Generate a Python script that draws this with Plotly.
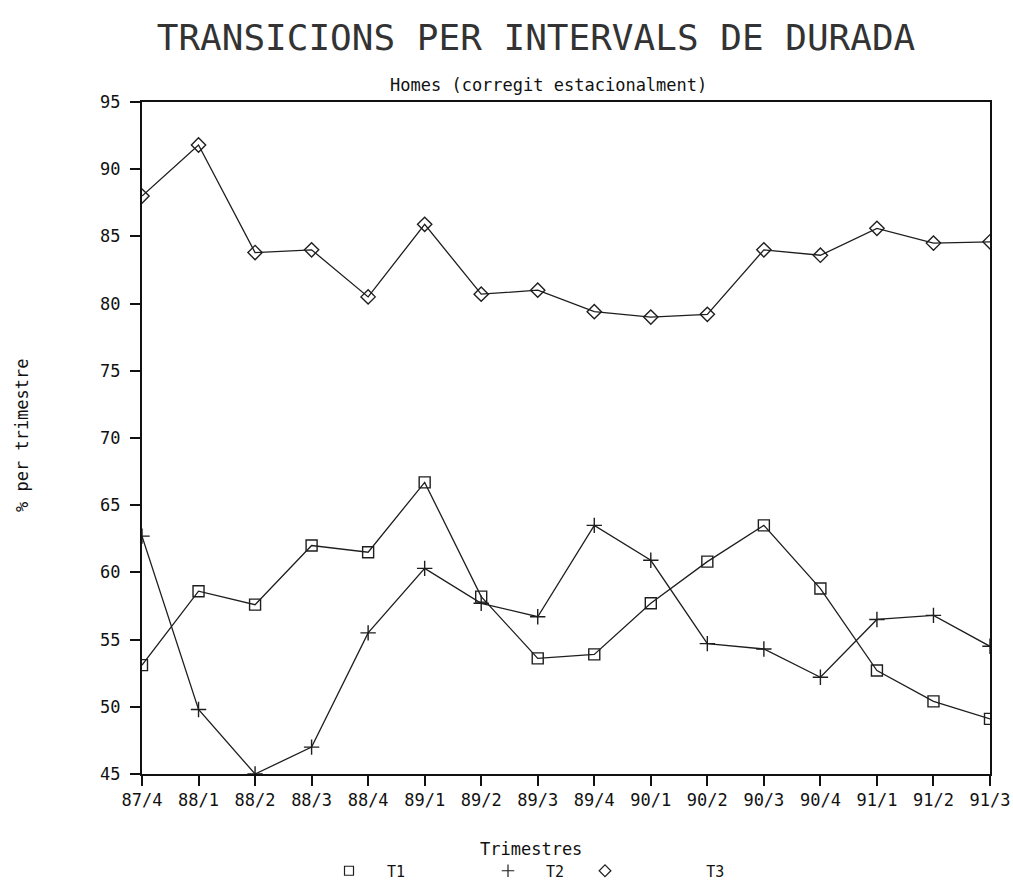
import plotly.graph_objects as go

quarters = ["87/4", "88/1", "88/2", "88/3", "88/4", "89/1", "89/2", "89/3",
            "89/4", "90/1", "90/2", "90/3", "90/4", "91/1", "91/2", "91/3"]
t1 = [53.1, 58.6, 57.6, 62.0, 61.5, 66.7, 58.2, 53.6,
      53.9, 57.7, 60.8, 63.5, 58.8, 52.7, 50.4, 49.1]
t2 = [62.7, 49.8, 45.0, 47.0, 55.5, 60.3, 57.7, 56.7,
      63.5, 60.9, 54.7, 54.3, 52.2, 56.5, 56.8, 54.5]
t3 = [88.0, 91.8, 83.8, 84.0, 80.5, 85.9, 80.7, 81.0,
      79.4, 79.0, 79.2, 84.0, 83.6, 85.6, 84.5, 84.6]

FONT = "DejaVu Sans Mono"
LINE = "#1e1e1e"

W, H = 1013, 885
PL, PR, PT, PB = 142, 990, 102, 774  # plot area in screen px


def px(sx):
    return (sx - PL) / (PR - PL)


def py(sy):
    return (PB - sy) / (PB - PT)


fig = go.Figure()
series = [("T1", t1, "square-open", 11, "legend", "\u00a0\u00a0T1"),
          ("T2", t2, "cross-thin-open", 11, "legend2", "\u00a0\u00a0T2"),
          ("T3", t3, "diamond-open", 11, "legend3", "\u00a0" * 9 + "T3")]
for name, vals, sym, sz, leg, label in series:
    fig.add_trace(go.Scatter(
        x=quarters, y=vals, mode="lines+markers", name=name, showlegend=False,
        line=dict(color=LINE, width=1.3),
        marker=dict(symbol=sym, size=sz, color=LINE, line=dict(color=LINE, width=1.4)),
    ))
    fig.add_trace(go.Scatter(
        x=[None], y=[None], mode="markers", name=label, showlegend=True, legend=leg,
        marker=dict(symbol=sym, size=9, color=LINE, line=dict(color=LINE, width=1.2)),
    ))

legend_common = dict(orientation="h", xanchor="left", yanchor="middle",
                     y=py(871), font=dict(family=FONT, size=15, color="#111"),
                     bgcolor="rgba(0,0,0,0)", borderwidth=0)

fig.update_layout(
    width=W, height=H,
    margin=dict(l=PL, r=W - PR, t=PT, b=H - PB, autoexpand=False),
    paper_bgcolor="white", plot_bgcolor="white",
    font=dict(family=FONT, size=15, color="#111"),
    title=dict(text="TRANSICIONS PER INTERVALS DE DURADA",
               font=dict(family=FONT, size=36, color="#333"),
               x=536 / W, xanchor="center", y=1 - 37 / H, yanchor="middle"),
    legend=dict(x=px(349 - 20), **legend_common),
    legend2=dict(x=px(508 - 20), **legend_common),
    legend3=dict(x=px(605 - 20), **legend_common),
    annotations=[
        dict(text="Homes (corregit estacionalment)", xref="paper", yref="paper",
             x=px(548), y=py(85), xanchor="center", yanchor="middle",
             showarrow=False, font=dict(family=FONT, size=17)),
        dict(text="% per trimestre", xref="paper", yref="paper",
             x=px(22), y=py(435), xanchor="center", yanchor="middle",
             textangle=-90, showarrow=False, font=dict(family=FONT, size=17)),
        dict(text="Trimestres", xref="paper", yref="paper",
             x=px(531), y=py(849), xanchor="center", yanchor="middle",
             showarrow=False, font=dict(family=FONT, size=17)),
    ],
)
fig.update_xaxes(type="category", range=[0, 15], showgrid=False, zeroline=False,
                 showline=True, linecolor="#111", linewidth=2, mirror=True,
                 ticks="outside", ticklen=10, tickwidth=1.5, tickcolor="#111",
                 tickfont=dict(family=FONT, size=17), automargin=False)
fig.update_yaxes(range=[45, 95], dtick=5, tick0=45, showgrid=False, zeroline=False,
                 showline=True, linecolor="#111", linewidth=2, mirror=True,
                 ticks="outside", ticklen=10, tickwidth=1.5, tickcolor="#111",
                 ticklabelstandoff=6,
                 tickfont=dict(family=FONT, size=17), automargin=False)

fig.write_html(
    "out.html",
    config={"displayModeBar": False},
    post_script="document.documentElement.style.margin='0';"
                "document.body.style.margin='0';"
                "document.body.style.overflow='hidden';",
)
